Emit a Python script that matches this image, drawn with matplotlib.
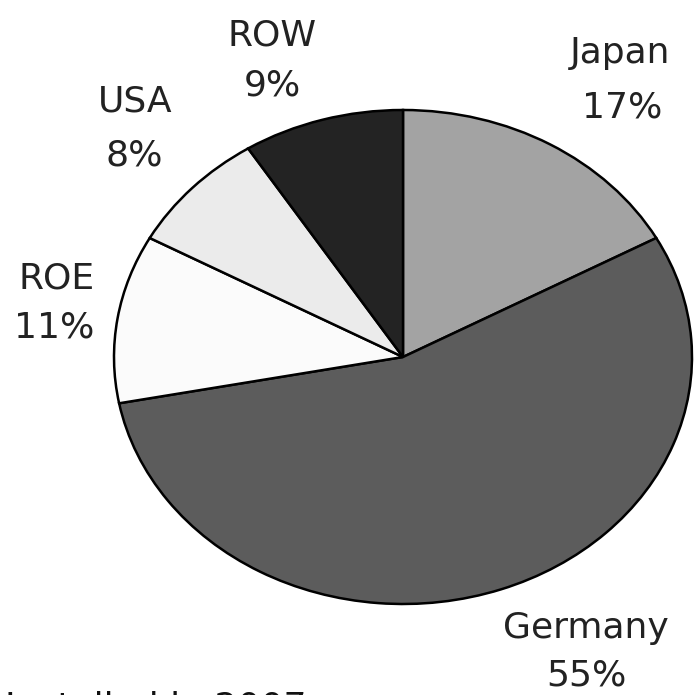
import matplotlib
matplotlib.use("Agg")
import matplotlib.pyplot as plt

# market shares (%), clockwise from 12 o'clock
regions = ["Japan", "Germany", "ROE", "USA", "ROW"]
shares = [17, 55, 11, 8, 9]
colors = ["#a3a3a3", "#5c5c5c", "#fbfbfb", "#ebebeb", "#232323"]

# label positions in pixels (x centre, baseline y from top)
label_pos = {
    "Japan": [(620, 63), (622, 118)],
    "Germany": [(586, 638), (586, 685)],
    "ROE": [(57, 288), (54, 338)],
    "USA": [(135, 112), (134, 165)],
    "ROW": [(272, 45), (272, 95)],
}

W, H = 698, 695
CX, CY = 403, 357      # pie centre, px
RX, RY = 289, 247      # pie half-width / half-height, px

fig = plt.figure(figsize=(W / 100, H / 100), dpi=100)
ax = fig.add_axes([0, 0, 1, 1])
ax.pie(
    shares,
    colors=colors,
    startangle=90,
    counterclock=False,
    wedgeprops={"edgecolor": "black", "linewidth": 1.8},
)
ax.set_aspect("auto")
ax.set_xlim(-CX / RX, (W - CX) / RX)
ax.set_ylim(-(H - CY) / RY, CY / RY)
ax.axis("off")

for name, pct in zip(regions, shares):
    (x1, y1), (x2, y2) = label_pos[name]
    fig.text(x1 / W, 1 - y1 / H, name, ha="center", va="baseline",
             fontsize=26, color="#222222", family="DejaVu Sans")
    fig.text(x2 / W, 1 - y2 / H, f"{pct}%", ha="center", va="baseline",
             fontsize=26, color="#222222", family="DejaVu Sans")

# caption, cut off by the bottom edge as in the source image
fig.text(5 / W, 1 - 718 / H, "Installed in 2007", ha="left", va="baseline",
         fontsize=26, color="#111111", family="DejaVu Sans")

fig.savefig("out.png", dpi=100, facecolor="white")
